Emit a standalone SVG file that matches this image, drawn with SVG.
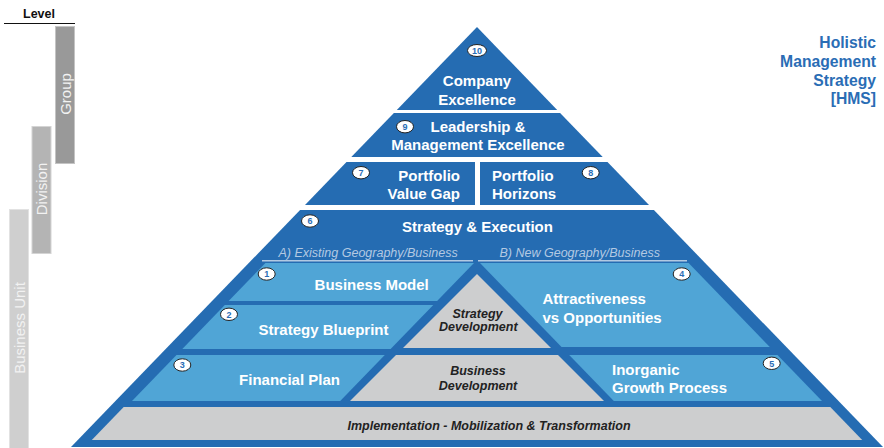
<svg xmlns="http://www.w3.org/2000/svg" width="884" height="448" viewBox="0 0 884 448">
  <defs>
    <style>
      .dark { fill: #256cb2; }
      .light { fill: #50a5d6; }
      .grey { fill: #cdcecf; }
      .t { font-family: "Liberation Sans", Arial, sans-serif; font-weight: bold; font-size: 15px; fill: #ffffff; }
      .c { text-anchor: middle; }
      .e { text-anchor: end; }
      .it { font-family: "Liberation Sans", Arial, sans-serif; font-weight: bold; font-style: italic; font-size: 12.5px; fill: #222222; text-anchor: middle; }
      .sub { font-family: "Liberation Sans", Arial, sans-serif; font-style: italic; font-size: 12.5px; fill: #b3c9e2; }
      .subline { stroke: #b3c9e2; stroke-width: 1.5; }
      .badge ellipse { fill: #ffffff; stroke: #222222; stroke-width: 1; }
      .badge text { font-family: "Liberation Sans", Arial, sans-serif; font-weight: bold; font-size: 9px; fill: #2a6db5; text-anchor: middle; }
      .lvl { font-family: "Liberation Sans", Arial, sans-serif; font-size: 15px; fill: #f2f2f2; text-anchor: middle; }
      .title { font-family: "Liberation Sans", Arial, sans-serif; font-weight: bold; font-size: 15.7px; fill: #2a6db5; text-anchor: end; }
    </style>
  </defs>

  <!-- Level axis -->
  <g id="level-axis">
    <text x="39" y="18" font-family="Liberation Sans, Arial, sans-serif" font-weight="bold" font-size="12.5" fill="#111" text-anchor="middle">Level</text>
    <line x1="4" y1="23.5" x2="75" y2="23.5" stroke="#111" stroke-width="1"/>
  </g>
  <g id="level-group">
    <rect x="55.5" y="26.5" width="19" height="137" fill="#999999" stroke="#c4c4c4" stroke-width="1"/>
    <text class="lvl" transform="translate(70.5,94) rotate(-90)">Group</text>
  </g>
  <g id="level-division">
    <rect x="32" y="126.5" width="19" height="127" fill="#b4b4b4" stroke="#d4d4d4" stroke-width="1"/>
    <text class="lvl" transform="translate(47,189) rotate(-90)">Division</text>
  </g>
  <g id="level-business-unit">
    <rect x="9.5" y="209.5" width="19" height="240" fill="#cfcfcf" stroke="#e2e2e2" stroke-width="1"/>
    <text class="lvl" transform="translate(24.5,328) rotate(-90)">Business Unit</text>
  </g>

  <!-- Title -->
  <g id="title">
    <text class="title" x="876" y="48">Holistic</text>
    <text class="title" x="876" y="67">Management</text>
    <text class="title" x="876" y="86">Strategy</text>
    <text class="title" x="876" y="104">[HMS]</text>
  </g>

  <!-- Tier 10 -->
  <g id="company-excellence">
    <polygon class="dark" points="477,27 557.2,110 396.8,110"/>
    <text class="t c" x="477" y="86">Company</text>
    <text class="t c" x="477" y="104.5">Excellence</text>
    <g class="badge"><ellipse cx="477" cy="50.5" rx="9.5" ry="6"/><text x="477" y="53.7">10</text></g>
  </g>

  <!-- Tier 9 -->
  <g id="leadership">
    <polygon class="dark" points="393.9,113 560.1,113 602.7,157 351.3,157"/>
    <text class="t c" x="478" y="132">Leadership &amp;</text>
    <text class="t c" x="478" y="150">Management Excellence</text>
    <g class="badge"><ellipse cx="405" cy="126.7" rx="8.5" ry="6.2"/><text x="405" y="129.9">9</text></g>
  </g>

  <!-- Tier 7 / 8 -->
  <g id="portfolio-value-gap">
    <polygon class="dark" points="346.5,162 475,162 475,205 305,205"/>
    <text class="t e" x="460" y="181">Portfolio</text>
    <text class="t e" x="460" y="198.5">Value Gap</text>
    <g class="badge"><ellipse cx="361" cy="172.7" rx="8.5" ry="6.2"/><text x="361" y="175.9">7</text></g>
  </g>
  <g id="portfolio-horizons">
    <polygon class="dark" points="480,162 607.5,162 649,205 480,205"/>
    <text class="t" x="492" y="181">Portfolio</text>
    <text class="t" x="492" y="198.5">Horizons</text>
    <g class="badge"><ellipse cx="590.7" cy="172.7" rx="8.5" ry="6.2"/><text x="590.7" y="175.9">8</text></g>
  </g>

  <!-- Tier 6: base of the pyramid -->
  <g id="strategy-execution">
    <polygon class="dark" points="300.1,210 653.9,210 883,447 71,447"/>
    <text class="t c" x="477.5" y="232">Strategy &amp; Execution</text>
    <g class="badge"><ellipse cx="310" cy="221" rx="8.5" ry="6.2"/><text x="310" y="224.2">6</text></g>
    <text class="sub" x="278.5" y="257">A) Existing Geography/Business</text>
    <text class="sub" x="499.5" y="257">B) New Geography/Business</text>
    <line class="subline" x1="262" y1="260.7" x2="473" y2="260.7"/>
    <line class="subline" x1="478" y1="260.7" x2="687" y2="260.7"/>
  </g>

  <!-- Left column A -->
  <g id="business-model">
    <polygon class="light" points="265.4,263 474,263 437.1,301 228.6,301"/>
    <text class="t c" x="371.7" y="290">Business Model</text>
    <g class="badge"><ellipse cx="266.7" cy="274" rx="8.5" ry="6.2"/><text x="266.7" y="277.2">1</text></g>
  </g>
  <g id="strategy-blueprint">
    <polygon class="light" points="224.8,305 433.3,305 390.6,349 182.3,349"/>
    <text class="t c" x="323.5" y="335">Strategy Blueprint</text>
    <g class="badge"><ellipse cx="229" cy="314.3" rx="8.5" ry="6.2"/><text x="229" y="317.5">2</text></g>
  </g>
  <g id="financial-plan">
    <polygon class="light" points="176.5,355 384.8,355 340.2,401 132,401"/>
    <text class="t c" x="289.5" y="384.5">Financial Plan</text>
    <g class="badge"><ellipse cx="182.3" cy="365" rx="8.5" ry="6.2"/><text x="182.3" y="368.2">3</text></g>
  </g>

  <!-- Right column B -->
  <g id="attractiveness">
    <polygon class="light" points="480,263 688.6,263 769.8,347 561.5,347"/>
    <text class="t" x="542.5" y="303.5">Attractiveness</text>
    <text class="t" x="542.5" y="323">vs Opportunities</text>
    <g class="badge"><ellipse cx="681.7" cy="274" rx="8.5" ry="6.2"/><text x="681.7" y="277.2">4</text></g>
  </g>
  <g id="inorganic-growth">
    <polygon class="light" points="569.2,355 777.5,355 822,401 613.8,401"/>
    <text class="t" x="612" y="375">Inorganic</text>
    <text class="t" x="612" y="393">Growth Process</text>
    <g class="badge"><ellipse cx="771.7" cy="363.3" rx="8.5" ry="6.2"/><text x="771.7" y="366.5">5</text></g>
  </g>

  <!-- Centre -->
  <g id="strategy-development">
    <polygon class="grey" points="477,274 551,348 403,348"/>
    <text class="it" x="477.5" y="317.5">Strategy</text>
    <text class="it" x="478.3" y="331">Development</text>
  </g>
  <g id="business-development">
    <polygon class="grey" points="396,355 558,355 604,401 350,401"/>
    <text class="it" x="478" y="375">Business</text>
    <text class="it" x="478" y="390">Development</text>
  </g>

  <!-- Foundation -->
  <g id="implementation">
    <polygon class="grey" points="123.7,407 830.3,407 862.2,440 91.8,440"/>
    <text class="it" x="489" y="430">Implementation - Mobilization &amp; Transformation</text>
  </g>
</svg>
